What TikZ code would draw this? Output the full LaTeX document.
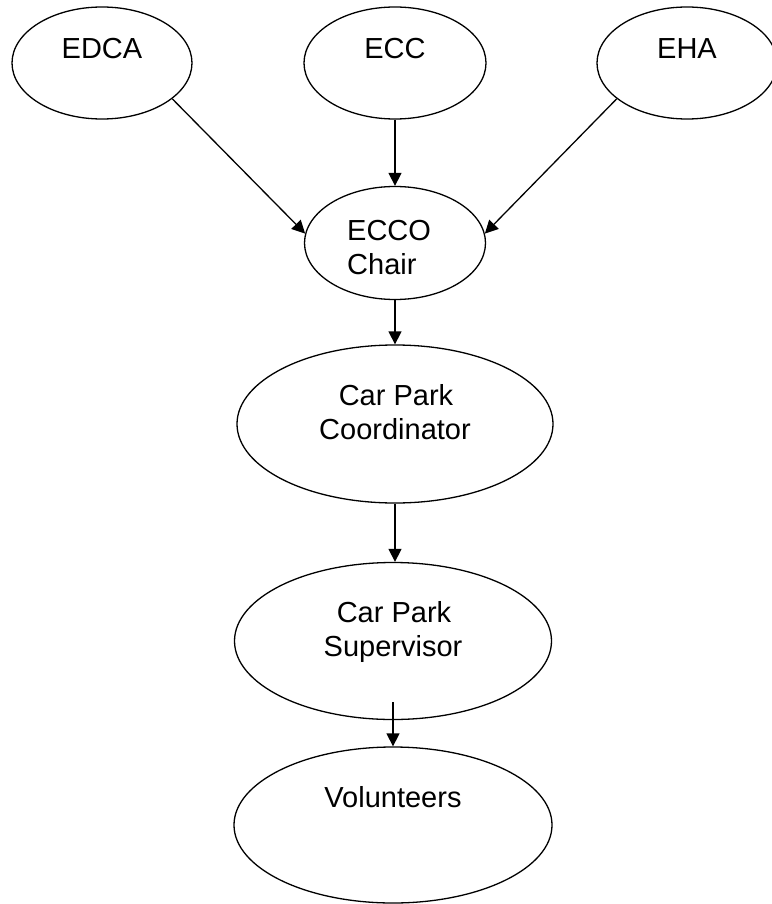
\documentclass[tikz,border=0pt]{standalone}
\usepackage{fontspec}
\setmainfont{Liberation Sans}
\usetikzlibrary{arrows.meta,shapes.geometric,calc}
\begin{document}
\begin{tikzpicture}[x=1pt,y=-1pt,
  oval/.style={draw,ellipse,line width=1.3pt,inner sep=0pt},
  lbl/.style={font=\fontsize{29}{34}\selectfont,inner sep=0pt,anchor=base},
  conn/.style={line width=1.3pt,-{Triangle[length=13pt,width=13pt]}}]
\useasboundingbox (0,0) rectangle (771,904);
% ellipses
\node[oval,minimum width=180pt,minimum height=112pt] (edca) at (102,63) {};
\node[oval,minimum width=182pt,minimum height=112pt] (ecc) at (395,63) {};
\node[oval,minimum width=180pt,minimum height=112pt] (eha) at (687,63) {};
\node[oval,minimum width=181pt,minimum height=113pt] (ecco) at (395,243) {};
\node[oval,minimum width=316pt,minimum height=158pt] (coord) at (395,424) {};
\node[oval,minimum width=317pt,minimum height=157pt] (sup) at (393,641) {};
\node[oval,minimum width=318pt,minimum height=156pt] (vol) at (393,825) {};
% labels
\node[lbl] (edcat) at (102,58.5) {EDCA};
\node[lbl] (ecct) at (395,58.5) {ECC};
\node[lbl] (ehat) at (687,58.5) {EHA};
\node[lbl,anchor=base west] (eccot1) at (347,240.5) {ECCO};
\node[lbl,anchor=base west] (eccot2) at (347,274.5) {Chair};
\node[lbl] (coordt1) at (396,405.5) {Car Park};
\node[lbl] (coordt2) at (395,439.5) {Coordinator};
\node[lbl] (supt1) at (394,622.5) {Car Park};
\node[lbl] (supt2) at (393,656.5) {Supervisor};
\node[lbl] (volt) at (393,807.5) {Volunteers};
% connectors
\coordinate (supout) at ($(sup.south)+(0,-18)$);
\draw[conn] (edca.-27) -- (ecco.174);
\draw[conn] (ecc.south) -- (ecco.north);
\draw[conn] (eha.207) -- (ecco.6);
\draw[conn] (ecco.south) -- (coord.north);
\draw[conn] (coord.south) -- (coord.south |- sup.north);
\draw[conn] (supout) -- (vol.north);
\end{tikzpicture}
\end{document}
